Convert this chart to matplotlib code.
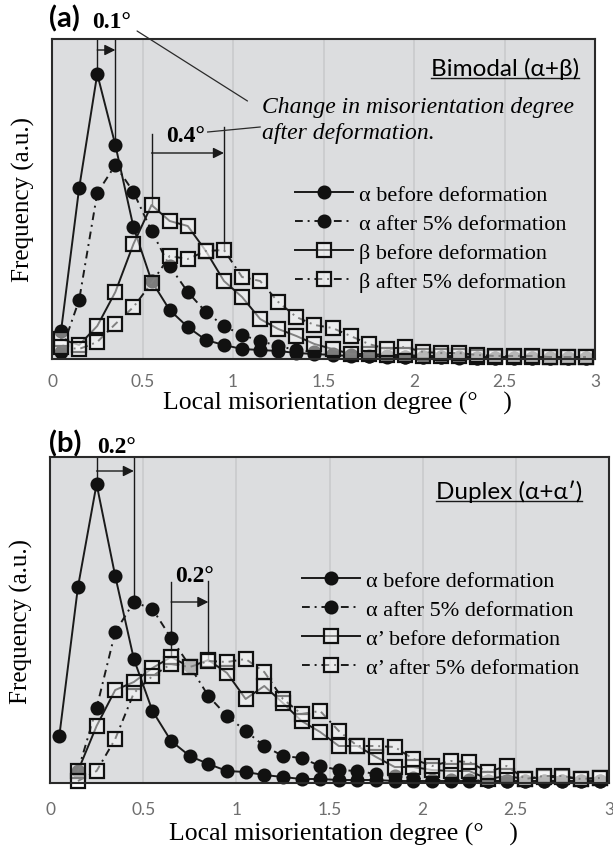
import numpy as np
import matplotlib
matplotlib.use("Agg")
import matplotlib.pyplot as plt

plt.rcParams['font.family'] = ['Liberation Serif', 'DejaVu Serif']

# bin centres of local misorientation (deg)
misori = [0.05, 0.15, 0.25, 0.35, 0.45, 0.55, 0.65, 0.75, 0.85, 0.95,
          1.05, 1.15, 1.25, 1.35, 1.45, 1.55, 1.65, 1.75, 1.85, 1.95,
          2.05, 2.15, 2.25, 2.35, 2.45, 2.55, 2.65, 2.75, 2.85, 2.95]
nan = np.nan

# (a) bimodal, frequency in a.u.
a_alpha_before = [28, 171, 285, 214, 132, 78, 49, 32, 19, 14, 10, 9, 8, 6, 5,
                  4, 3, 3, 2, 2, 2, 2, 1, 1, 1, 1, 1, 1, 1, 1]
a_alpha_after = [7, 59, 166, 194, 167, 128, 93, 67, 47, 33, 24, 18, 13, 9, 7,
                 5, 4, 3, 3, 2, 2, 2, 2, 1, 1, 1, 1, 1, 1, 1]
a_beta_before = [20, 14, 33, 67, 115, 154, 138, 133, 108, 78, 62, 40, 30, 23, 15,
                 10, 5, 5, 4, 4, 3, 3, 3, 2, 2, 2, 2, 2, 2, 2]
a_beta_after = [12, 10, 17, 35, 52, 76, 103, 100, 108, 109, 82, 78, 57, 42, 34,
                31, 23, 15, 10, 12, 7, 6, 6, 4, 3, 3, 3, 2, 2, 2]

# (b) duplex
b_alpha_before = [47, 196, 299, 207, 124, 72, 42, 27, 19, 12, 11, 8, 6, 4, 4,
                  3, 3, 3, 2, 2, 2, 2, 2, 2, 2, 2, 2, 2, 2, 2]
b_alpha_after = [nan, 12, 75, 151, 181, 174, 145, 117, 87, 67, 52, 37, 27, 25, 17,
                 13, 12, 9, 7, 5, 3, 3, 3, 2, 2, 2, 2, 2, 2, 2]
b_alphap_before = [nan, 12, 57, 93, 101, 115, 126, 116, 123, 110, 84, 97, 80, 62, 51,
                   37, 37, 26, 16, 16, 13, 12, 12, 4, 7, 4, 6, 6, 4, 5]
b_alphap_after = [nan, 2, 12, 44, 90, 107, 119, 116, 122, 121, 124, 111, 84, 69, 72,
                  52, 37, 37, 36, 24, 17, 22, 21, 11, 17, 4, 7, 7, 4, 5]

xticks = [0, 0.5, 1, 1.5, 2, 2.5, 3]
xticklabels = ['0', '0.5', '1', '1.5', '2', '2.5', '3']

W, H = 613, 854
BG = '#dcdddf'
SANS = ['Lato', 'Noto Sans', 'DejaVu Sans']
DASHDOT = (0, (4, 2.5, 1, 2.5))

fig = plt.figure(figsize=(W / 100, H / 100), dpi=100)


def make_axes(left, right, top, bottom, ymax, tickpad, xlabelpad, xlab_x):
    ax = fig.add_axes([left / W, 1 - bottom / H, (right - left) / W, (bottom - top) / H])
    ax.set_facecolor(BG)
    ax.set_xlim(0, 3)
    ax.set_ylim(0, ymax)
    ax.set_yticks([])
    ax.set_xticks(xticks)
    ax.set_xticklabels(xticklabels, family=SANS, fontsize=12.5, color='#6e6e6e')
    ax.tick_params(axis='x', length=0, pad=tickpad)
    for x in xticks[1:-1]:
        ax.axvline(x, color='#c9cacc', lw=1.2, zorder=0)
    for s in ax.spines.values():
        s.set_color('#2a2a2a')
        s.set_linewidth(1.5)
    ax.set_xlabel('Local misorientation degree (°\u2003)', fontsize=18.5, labelpad=xlabelpad)
    ax.xaxis.label.set_x(xlab_x)
    ax.set_ylabel('Frequency (a.u.)', fontsize=18, labelpad=12)
    return ax


def plot_series(ax, series, labels):
    styles = [dict(ls='-', marker='o', mfc='#111111'),
              dict(ls=DASHDOT, marker='o', mfc='#111111'),
              dict(ls='-', marker='s', mfc=(1, 1, 1, 0.45)),
              dict(ls=DASHDOT, marker='s', mfc=(1, 1, 1, 0.45))]
    for ys, lab, st in zip(series, labels, styles):
        ms = 8.5 if st['marker'] == 'o' else 9.5
        ax.plot(misori, ys, color='#1a1a1a', lw=1.4, ls=st['ls'], marker=st['marker'],
                ms=ms, mfc=st['mfc'], mec='#111111', mew=1.6, label=lab, clip_on=False)


def bracket(ax, x0, x1, ytop0, ytop1, ybot0, ybot1, yarrow):
    ax.plot([x0, x0], [ybot0, ytop0], color='#1a1a1a', lw=1.0, zorder=1)
    ax.plot([x1, x1], [ybot1, ytop1], color='#1a1a1a', lw=1.0, zorder=1)
    ax.annotate('', xy=(x1, yarrow), xytext=(x0, yarrow),
                arrowprops=dict(arrowstyle='-|>', color='#1a1a1a', lw=1.0,
                                mutation_scale=16, shrinkA=0, shrinkB=0))


def legend(ax, x_px, y_px):
    ax.legend(loc='upper left', bbox_to_anchor=(x_px / W, 1 - y_px / H),
              bbox_transform=fig.transFigure, frameon=False, fontsize=16,
              handlelength=2.6, handletextpad=0.27, labelspacing=0.39,
              borderpad=0, borderaxespad=0)


def underline(ax, t, dy):
    fig.canvas.draw()
    bb = t.get_window_extent().transformed(ax.transData.inverted())
    ax.plot([bb.x0, bb.x1], [bb.y0 + dy, bb.y0 + dy], color='#1a1a1a', lw=1.0)


# ---------------- (a) ----------------
axa = make_axes(52, 595, 40, 360, 320, 10, 1.5, 0.525)
plot_series(axa, [a_alpha_before, a_alpha_after, a_beta_before, a_beta_after],
            ['α before deformation', 'α after 5% deformation',
             'β before deformation', 'β after 5% deformation'])
legend(axa, 295, 185)
i_a = int(np.argmax(a_alpha_before))
j_a = int(np.argmax(a_alpha_after))
bracket(axa, misori[i_a], misori[j_a], 320, 320, a_alpha_before[i_a],
        a_alpha_before[j_a], 309)
i_b = int(np.argmax(a_beta_before))
j_b = int(np.argmax(a_beta_after))
bracket(axa, misori[i_b], misori[j_b], 225, 232, a_beta_before[i_b],
        a_beta_after[j_b], 206)
fig.text(49 / W, 1 - 19 / H, '(a)', family=SANS, fontweight='bold', fontsize=21,
         va='center', ha='left')
fig.text(92 / W, 1 - 22 / H, '0.1°', fontweight='bold', fontsize=17, va='center', ha='left')
axa.text(0.63, 224, '0.4°', fontweight='bold', fontsize=17, va='center', ha='left')
ta = axa.text(2.912, 291, 'Bimodal (α+β)', family=SANS, fontsize=17.5,
              ha='right', va='center')
axa.annotate('', xy=(1.08, 258), xytext=(0.47, 328),
             arrowprops=dict(arrowstyle='-', color='#2a2a2a', lw=0.9, shrinkA=0, shrinkB=0),
             annotation_clip=False)
axa.plot([0.86, 1.15], [227, 232], color='#2a2a2a', lw=0.9)
axa.text(1.16, 253, 'Change in misorientation degree', style='italic', fontsize=17,
         va='center', ha='left')
axa.text(1.16, 227, 'after deformation.', style='italic', fontsize=17,
         va='center', ha='left')

# ---------------- (b) ----------------
axb = make_axes(50, 609, 458, 784, 326, 13, 3.5, 0.525)
plot_series(axb, [b_alpha_before, b_alpha_after, b_alphap_before, b_alphap_after],
            ['α before deformation', 'α after 5% deformation',
             'α’ before deformation', 'α’ after 5% deformation'])
legend(axb, 302, 571)
i_a = int(np.nanargmax(b_alpha_before))
j_a = int(np.nanargmax(b_alpha_after))
bracket(axb, misori[i_a], misori[j_a], 326, 326, b_alpha_before[i_a],
        b_alpha_after[j_a], 312)
i_p = int(np.nanargmax(b_alphap_before))
j_p = int(np.nanargmax(b_alphap_after[:10]))
bracket(axb, misori[i_p], misori[j_p], 201, 202, b_alphap_before[i_p],
        b_alphap_after[j_p], 181)
fig.text(49 / W, 1 - 444 / H, '(b)', family=SANS, fontweight='bold', fontsize=21,
         va='center', ha='left')
fig.text(97 / W, 1 - 448 / H, '0.2°', fontweight='bold', fontsize=17, va='center', ha='left')
axb.text(0.67, 207, '0.2°', fontweight='bold', fontsize=17, va='center', ha='left')
tb = axb.text(2.856, 292, 'Duplex (α+α′)', family=SANS, fontsize=17.5,
              ha='right', va='center')

underline(axa, ta, 1)
underline(axb, tb, 1)

fig.savefig('out.png', dpi=100, facecolor='white')
